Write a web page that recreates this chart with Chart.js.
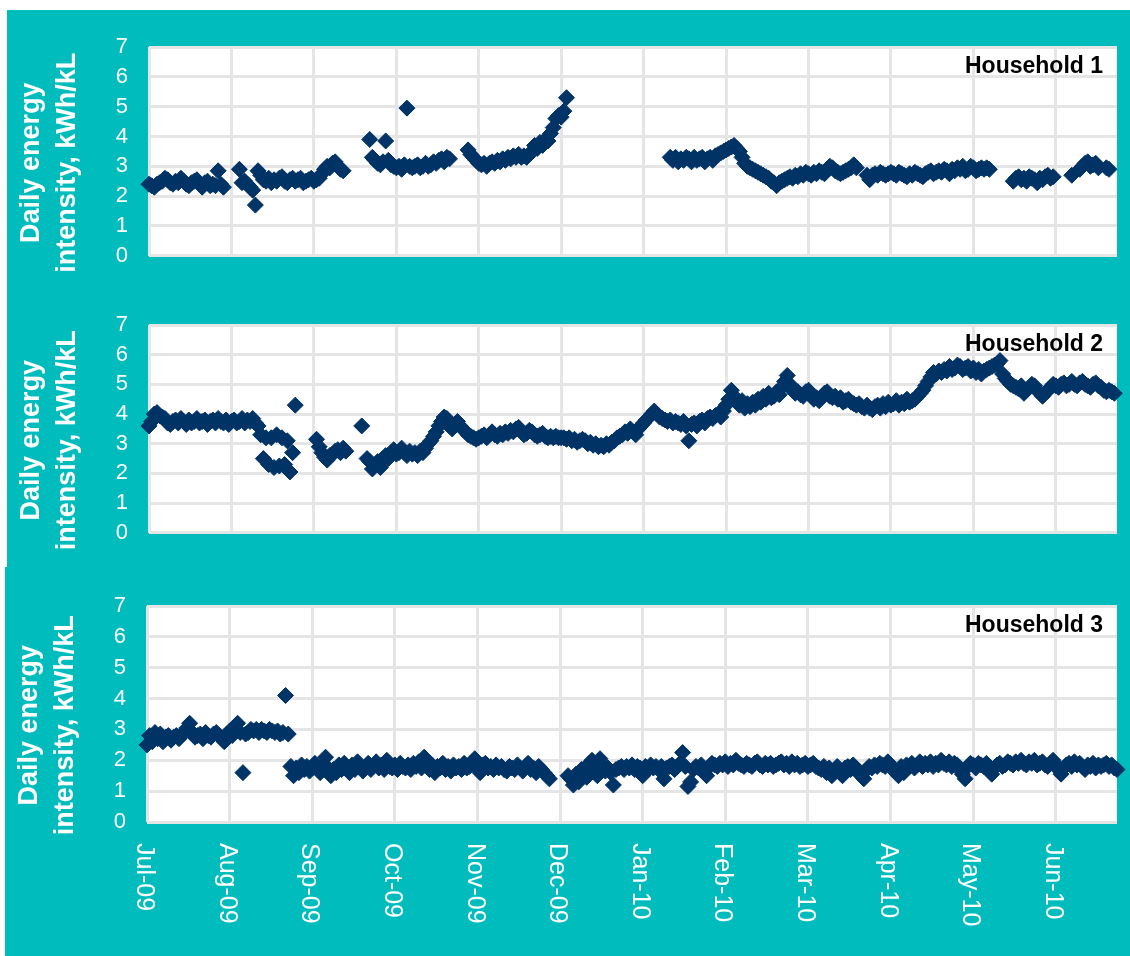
<!DOCTYPE html>
<html>
<head>
<meta charset="utf-8">
<script src="https://cdn.jsdelivr.net/npm/chart.js@4.4.1/dist/chart.umd.min.js"></script>
<style>
  body { margin: 0; background: #ffffff; }
  canvas { position: absolute; background: #00BCBD; }
</style>
</head>
<body>
<canvas id="chart1" width="1123" height="280" style="left:7px;top:10px"></canvas>
<canvas id="chart2" width="1123" height="277" style="left:7px;top:290px"></canvas>
<canvas id="chart3" width="1125" height="389" style="left:5px;top:567px"></canvas>
<script>
const monthLabels = ["Jul-09", "Aug-09", "Sep-09", "Oct-09", "Nov-09", "Dec-09", "Jan-10", "Feb-10", "Mar-10", "Apr-10", "May-10", "Jun-10"]
// day index of each labelled tick (one tick every 31 days, day 0 = 1 Jul 2009)
const monthTicks = [0, 31, 62, 93, 124, 155, 186, 217, 248, 279, 310, 341]
const yTicks = [0, 1, 2, 3, 4, 5, 6, 7]
const lastDay = 364

// runs of consecutive daily readings: [first day index, values]
const household1 = [
    [0, [2.4, 2.35, 2.3, 2.4, 2.45, 2.5, 2.6, 2.55, 2.45, 2.4,
         2.5, 2.45, 2.6, 2.5, 2.4, 2.35, 2.45, 2.5, 2.55, 2.4,
         2.3, 2.45, 2.5, 2.35, 2.4, 2.35, 2.85, 2.4, 2.3]],
    [34, [2.9, 2.45, 2.5, 2.4, 2.3, 2.2,
          1.7, 2.85, 2.7, 2.55, 2.5, 2.6, 2.45, 2.55, 2.5, 2.6,
          2.65, 2.5, 2.45, 2.55, 2.6, 2.5, 2.55, 2.6, 2.45, 2.5,
          2.55, 2.6, 2.5, 2.55, 2.6, 2.75, 2.9, 3.0, 2.95, 3.1,
          3.15, 3.0, 2.9, 2.85]],
    [83, [3.9, 3.3, 3.2, 3.1, 3.05, 3.15, 3.85,
          3.2, 3.05, 3.0, 2.95, 3.0, 2.9, 3.05, 4.95, 3.0, 2.95,
          3.0, 3.05, 2.95, 3.0, 3.1, 3.0, 3.05, 3.15, 3.1, 3.2,
          3.25, 3.15, 3.3, 3.25]],
    [120, [3.55, 3.4, 3.3, 3.2, 3.1, 3.05, 3.1, 3.0, 3.1, 3.15,
           3.1, 3.2, 3.15, 3.25, 3.2, 3.3, 3.25, 3.35, 3.3, 3.4,
           3.3, 3.35, 3.3, 3.4, 3.5, 3.7, 3.6, 3.8, 3.7, 3.9,
           3.85, 4.1, 4.3, 4.6, 4.7, 4.65, 4.85, 5.3]],
    [196, [3.3, 3.2, 3.3, 3.15,
           3.25, 3.2, 3.3, 3.25, 3.15, 3.3, 3.2, 3.25, 3.3, 3.15,
           3.25, 3.3, 3.2, 3.35, 3.4, 3.45, 3.5, 3.55, 3.6, 3.65,
           3.7, 3.6, 3.5, 3.3, 3.1, 3.0, 2.95, 2.9, 2.85, 2.8,
           2.75, 2.7, 2.65, 2.6, 2.5, 2.45, 2.35, 2.45, 2.5, 2.55,
           2.6, 2.65, 2.6, 2.7, 2.65, 2.75, 2.7, 2.8, 2.75, 2.7,
           2.8, 2.75, 2.85, 2.8, 2.75, 2.9, 3.0, 2.95, 2.85, 2.8,
           2.75, 2.8, 2.85, 2.9, 2.95, 3.05, 2.95]],
    [270, [2.7, 2.55, 2.7, 2.75, 2.7, 2.8, 2.75, 2.7, 2.75, 2.8,
           2.75, 2.7, 2.8, 2.75, 2.7, 2.65, 2.75, 2.7, 2.8, 2.75,
           2.7, 2.65, 2.75, 2.8, 2.85, 2.75, 2.8, 2.85, 2.8, 2.9,
           2.85, 2.75, 2.9, 2.85, 2.95, 2.9, 3.0, 2.85, 2.9, 3.0,
           2.95, 2.85, 2.9, 2.95, 2.9, 2.95, 2.9]],
    [325, [2.5, 2.6, 2.65, 2.55, 2.6,
           2.5, 2.65, 2.6, 2.55, 2.45, 2.6, 2.55, 2.65, 2.7, 2.6,
           2.65]],
    [347, [2.7]],
    [350, [2.9, 3.0, 3.1, 3.15, 3.0, 3.05, 3.1, 2.95]],
    [360, [2.95, 2.9]]
]

const household2 = [
    [0, [3.6, 3.75, 4.0, 4.05, 3.95, 3.9, 3.85, 3.7, 3.65, 3.75,
         3.8, 3.7, 3.85, 3.75, 3.65, 3.8, 3.7, 3.75, 3.85, 3.7,
         3.75, 3.8, 3.65, 3.75, 3.8, 3.7, 3.85, 3.75, 3.7, 3.8,
         3.65, 3.75, 3.8, 3.7, 3.75, 3.85, 3.7, 3.8, 3.75, 3.85,
         3.7, 3.6, 3.3, 2.5, 3.2, 2.3, 3.2, 2.2, 3.3, 2.25,
         3.2, 2.3, 3.1, 2.05, 2.7, 4.3]],
    [63, [3.15, 2.9, 2.7, 2.55, 2.45, 2.6, 2.65,
          2.75, 2.8, 2.7, 2.85, 2.75]],
    [80, [3.6]],
    [82, [2.5, 2.4, 2.15, 2.3, 2.4, 2.2, 2.5, 2.6,
          2.5, 2.7, 2.8, 2.65, 2.7, 2.85, 2.7, 2.6, 2.75, 2.65,
          2.7, 2.6, 2.75, 2.7, 2.85, 3.0, 3.1, 3.25, 3.4, 3.6,
          3.75, 3.9, 3.85, 3.6, 3.5, 3.65, 3.75, 3.6, 3.5, 3.4,
          3.3, 3.25, 3.2, 3.15, 3.2, 3.25, 3.3, 3.2, 3.3, 3.4,
          3.3, 3.25, 3.35, 3.3, 3.4, 3.35, 3.45, 3.4, 3.5, 3.55,
          3.4, 3.3, 3.35, 3.45, 3.4, 3.3, 3.25, 3.3, 3.35, 3.25,
          3.2, 3.25, 3.2, 3.25, 3.2, 3.2, 3.2, 3.15, 3.2, 3.1,
          3.15, 3.05, 3.1, 3.15, 3.1, 3.0, 3.05, 2.95, 3.0, 2.9,
          2.95, 2.9, 3.0, 2.95, 3.05, 3.1, 3.2, 3.25, 3.3, 3.4,
          3.35, 3.5, 3.4, 3.3, 3.5, 3.6, 3.7, 3.8, 3.9, 4.0,
          4.1, 4.0, 3.9, 3.85, 3.8, 3.75, 3.8, 3.7, 3.75, 3.7,
          3.65, 3.75, 3.6, 3.1, 3.65, 3.7, 3.6, 3.75, 3.8, 3.7,
          3.85, 3.9, 3.85, 3.95, 4.0, 3.9, 4.1, 4.3, 4.5, 4.8,
          4.6, 4.4, 4.3, 4.45, 4.2, 4.35, 4.25, 4.4, 4.3, 4.5,
          4.4, 4.6, 4.5, 4.7, 4.55, 4.6, 4.75, 4.65, 4.9, 5.1,
          5.3, 5.0, 4.8, 4.7, 4.75, 4.65, 4.6, 4.75, 4.8, 4.6,
          4.5, 4.55, 4.45, 4.6, 4.7, 4.75, 4.6, 4.55, 4.6, 4.5,
          4.55, 4.4, 4.45, 4.5, 4.4, 4.35, 4.3, 4.35, 4.25, 4.2,
          4.3, 4.2, 4.15, 4.25, 4.3, 4.2, 4.35, 4.25, 4.4, 4.3,
          4.35, 4.45, 4.3, 4.4, 4.35, 4.5, 4.4, 4.45, 4.5, 4.6,
          4.7, 4.8, 4.95, 5.1, 5.25, 5.4, 5.35, 5.45, 5.4, 5.5,
          5.45, 5.6, 5.5, 5.55, 5.65, 5.6, 5.5, 5.55, 5.6, 5.45,
          5.55, 5.4, 5.5, 5.35, 5.45, 5.5, 5.55, 5.6, 5.65, 5.7,
          5.8, 5.35, 5.2, 5.1, 5.0, 4.95, 4.9, 4.85, 4.95, 4.7,
          4.8, 4.9, 5.0, 4.95, 4.8, 4.7, 4.6, 4.7, 4.8, 4.9,
          5.0, 4.95, 4.9, 5.0, 5.05, 4.95, 5.0, 5.1, 5.0, 4.95,
          5.05, 5.1, 5.0, 4.95, 4.9, 5.0, 5.05, 4.95, 4.9, 4.8,
          4.75, 4.8, 4.75, 4.7]]
]

const household3 = [
    [0, [2.5, 2.8, 2.6, 2.9, 2.7, 2.85, 2.6, 2.75, 2.8, 2.65,
         2.75, 2.8, 2.7, 2.85, 2.9, 3.05, 3.2, 2.9, 2.75, 2.8,
         2.85, 2.7, 2.9, 2.8, 2.75, 2.85, 2.9, 2.8, 2.7, 2.6,
         2.85, 2.95, 2.8, 3.0, 3.2, 2.9, 1.6, 2.85, 2.9, 3.0,
         2.95, 3.0, 2.9, 3.0, 2.95, 2.9, 3.0, 2.95, 2.9, 2.95,
         2.85, 2.9, 4.1, 2.85, 1.8, 1.5, 1.75, 1.6, 1.85, 1.7,
         1.8, 1.65, 1.75, 1.9, 1.7, 1.6, 1.85, 2.1, 1.75, 1.5,
         1.7, 1.6, 1.85, 1.7, 1.9, 1.75, 1.6, 1.85, 1.7, 1.95,
         1.8, 1.65, 1.75, 1.9, 1.7, 1.8, 1.95, 1.75, 1.85, 1.7,
         2.0, 1.8, 1.75, 1.85, 1.7, 1.9, 1.8, 1.75, 1.85, 1.7,
         1.9, 1.8, 1.95, 1.75, 2.1, 1.8, 1.7, 1.85, 1.6, 1.8,
         1.75, 1.9, 1.7, 1.8, 1.65, 1.85, 1.75, 1.8, 1.7, 1.9,
         1.75, 1.8, 1.95, 2.05, 1.75, 1.6, 1.85, 1.9, 1.75, 1.8,
         1.7, 1.85, 1.75, 1.8, 1.7, 1.65, 1.8, 1.75, 1.7, 1.85,
         1.75, 1.65, 1.8, 1.9, 1.7, 1.75, 1.6, 1.8, 1.7, 1.6,
         1.5, 1.4]],
    [158, [1.5, 1.4,
           1.2, 1.55, 1.3, 1.7, 1.6, 1.45, 1.9, 2.0, 1.7, 1.5,
           2.05, 1.8, 1.65, 1.75, 1.6, 1.2, 1.7, 1.75, 1.8, 1.7,
           1.8, 1.75, 1.85, 1.7, 1.8, 1.75, 1.5, 1.8, 1.7, 1.85,
           1.75, 1.8, 1.7, 1.8, 1.4, 1.75, 1.8, 1.85, 1.7, 1.8,
           1.9, 2.25, 1.8, 1.15, 1.3, 1.7, 1.8, 1.75, 1.85, 1.6,
           1.5, 1.8, 1.9, 1.85, 1.8, 1.9, 1.85, 1.95, 1.8, 1.9,
           1.85, 2.0, 1.9, 1.85, 1.8, 1.9, 1.85, 1.8, 1.9, 1.95,
           1.85, 1.8, 1.9, 1.85, 1.9, 1.8, 1.85, 1.9, 1.95, 1.85,
           1.9, 1.8, 1.95, 1.85, 1.9, 1.8, 1.85, 1.9, 1.8, 1.85,
           1.9, 1.8, 1.75, 1.7, 1.8, 1.6, 1.75, 1.5, 1.7, 1.8,
           1.6, 1.5, 1.75, 1.8, 1.7, 1.85, 1.75, 1.6, 1.5, 1.4,
           1.7, 1.8, 1.75, 1.85, 1.8, 1.9, 1.85, 1.8, 1.95, 1.85,
           1.75, 1.6, 1.5, 1.8, 1.6, 1.85, 1.8, 1.9, 1.75, 1.85,
           1.95, 1.8, 1.9, 1.85, 1.95, 1.8, 1.9, 1.85, 2.0, 1.9,
           1.85, 1.95, 1.8, 1.9, 1.85, 1.7, 1.55, 1.4, 1.8, 1.9,
           1.85, 1.75, 1.9, 1.85, 1.8, 1.9, 1.7, 1.55, 1.75, 1.85,
           1.9, 1.8, 1.85, 1.95, 1.9, 1.85, 1.95, 1.9, 2.0, 1.9,
           1.85, 1.95, 1.9, 2.0, 1.85, 1.9, 1.95, 1.85, 1.8, 1.9,
           2.0, 1.85, 1.7, 1.55, 1.75, 1.85, 1.9, 1.8, 1.95, 1.85,
           1.9, 1.8, 1.7, 1.85, 1.8, 1.9, 1.75, 1.85, 1.8, 1.85,
           1.9, 1.8, 1.85, 1.75, 1.7]]
]

const navy = '#003366'
const gridGrey = '#E5E5E5'
const fontFamily = "'Liberation Sans', Arial, sans-serif"

Chart.defaults.font.family = fontFamily

function toPoints(runs) {
    return runs.flatMap(([start, values]) => values.map((v, i) => ({x: start + i, y: v})))
}

const plotBackground = {
    id: 'plotBackground',
    beforeDraw(chart) {
        const {ctx, chartArea} = chart
        ctx.save()
        ctx.fillStyle = '#ffffff'
        ctx.fillRect(chartArea.left, chartArea.top, chartArea.width, chartArea.height)
        ctx.restore()
    }
}

const cornerLabel = {
    id: 'cornerLabel',
    afterDraw(chart, args, opts) {
        if (!opts.text) return
        const {ctx, chartArea} = chart
        ctx.save()
        ctx.fillStyle = '#000000'
        ctx.font = `bold 23px ${fontFamily}`
        ctx.textAlign = 'right'
        ctx.fillText(opts.text, chartArea.right - 14, chartArea.top + 26)
        ctx.restore()
    }
}

// x labels read top to bottom, which Chart.js tick rotation can't do
const dateLabels = {
    id: 'dateLabels',
    afterDraw(chart, args, opts) {
        if (!opts.labels) return
        const {ctx, chartArea, scales: {x}} = chart
        ctx.save()
        ctx.fillStyle = '#ffffff'
        ctx.font = `25px ${fontFamily}`
        ctx.textAlign = 'left'
        ctx.textBaseline = 'middle'
        x.ticks.forEach((tick, i) => {
            ctx.save()
            ctx.translate(x.getPixelForValue(tick.value) - 3, chartArea.bottom + 21)
            ctx.rotate(Math.PI / 2)
            ctx.fillText(opts.labels[i], 0, 0)
            ctx.restore()
        })
        ctx.restore()
    }
}

function makeChart(id, label, runs, padding, labels) {
    return new Chart(document.getElementById(id), {
        type: 'scatter',
        data: {
            datasets: [{
                data: toPoints(runs),
                pointStyle: 'rectRot',
                pointRadius: 8,
                pointBackgroundColor: navy,
                pointBorderColor: navy,
                pointBorderWidth: 1,
                clip: false
            }]
        },
        options: {
            responsive: false,
            animation: false,
            events: [],
            layout: {padding: padding},
            plugins: {
                legend: {display: false},
                tooltip: {enabled: false},
                cornerLabel: {text: label},
                dateLabels: {labels: labels}
            },
            scales: {
                x: {
                    type: 'linear',
                    min: 0,
                    max: lastDay,
                    afterBuildTicks: s => { s.ticks = monthTicks.map(v => ({value: v})) },
                    afterFit: s => { s.height = 0 },
                    ticks: {display: false},
                    grid: {color: gridGrey, lineWidth: 3, drawTicks: false},
                    border: {display: false}
                },
                y: {
                    min: 0,
                    max: 7,
                    afterBuildTicks: s => { s.ticks = yTicks.map(v => ({value: v})) },
                    afterFit: s => { s.width = 142 },
                    ticks: {color: '#ffffff', font: {size: 22}, padding: 21},
                    grid: {color: gridGrey, lineWidth: 3, drawTicks: false},
                    border: {display: false},
                    title: {
                        display: true,
                        text: ['Daily energy   ', 'intensity, kWh/kL   '],
                        color: '#ffffff',
                        font: {size: 27, weight: 'bold', lineHeight: 36 / 27},
                        padding: {top: 7, bottom: 0}
                    }
                }
            }
        },
        plugins: [plotBackground, cornerLabel, dateLabels]
    })
}

makeChart('chart1', 'Household 1', household1, {top: 37, right: 13, bottom: 30, left: 0})
makeChart('chart2', 'Household 2', household2, {top: 35, right: 13, bottom: 27, left: 0})
makeChart('chart3', 'Household 3', household3, {top: 39, right: 13, bottom: 134, left: 0}, monthLabels)
</script>
</body>
</html>
